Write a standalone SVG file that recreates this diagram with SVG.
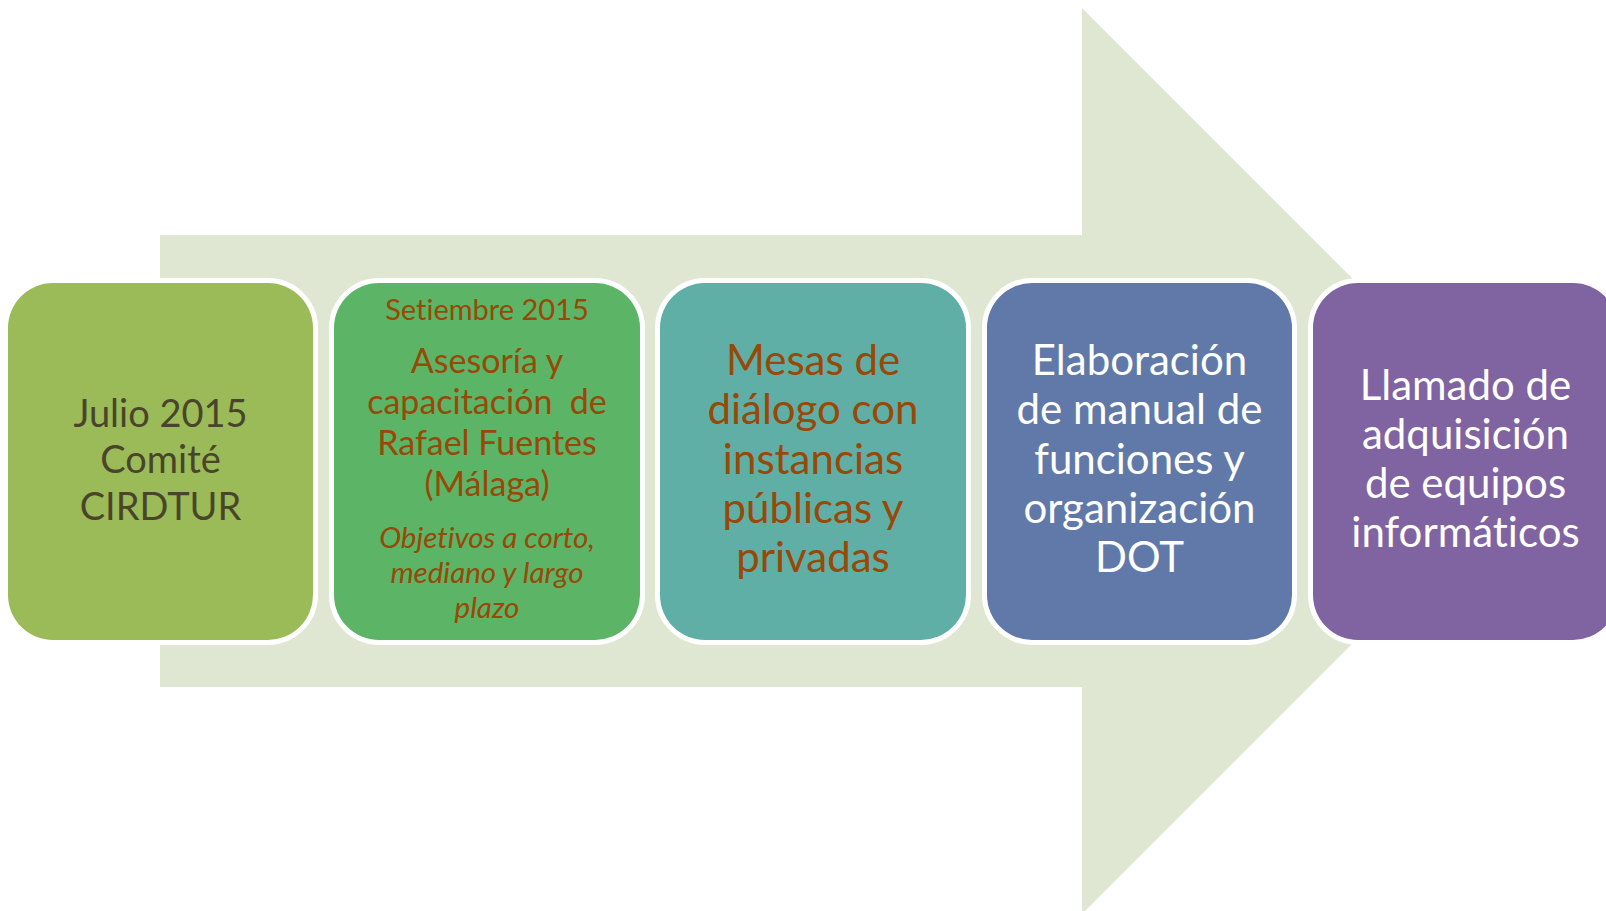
<svg xmlns="http://www.w3.org/2000/svg" width="1606" height="911" viewBox="0 0 1606 911">
<style>
.box{stroke:#FFFFFF;stroke-width:10;paint-order:stroke}
text{font-family:Lato,"Open Sans","Liberation Sans",sans-serif;text-anchor:middle;font-variant-ligatures:none}
.t1{font-size:38px;fill:#4A452A}
.t2a{font-size:29px;fill:#984807}
.t2b{font-size:34px;fill:#984807}
.t2c{font-size:29.5px;fill:#984807;font-style:italic}
.t3{font-size:42px;fill:#984807}
.tw{font-size:42px;fill:#FFFFFF}
</style>
<rect width="1606" height="911" fill="#FFFFFF"/>
<g id="background-arrow">
<polygon points="160,235 1082,235 1082,8 1535,461 1082,914 1082,687 160,687" fill="#DFE7D2"/>
</g>
<g id="connectors"></g>
<g id="node1">
<rect class="box" x="8" y="283" width="305" height="357" rx="45" fill="#9BBB59"/>
<text class="t1" x="160.5" y="427">Julio 2015</text>
<text class="t1" x="160.5" y="473">Comité</text>
<text class="t1" x="160.5" y="520">CIRDTUR</text>
</g>
<g id="node2">
<rect class="box" x="334" y="283" width="306" height="357" rx="45" fill="#5CB466"/>
<text class="t2a" x="487" y="320">Setiembre 2015</text>
<text class="t2b" x="487" y="373">Asesoría y</text>
<text class="t2b" x="487" y="414" xml:space="preserve">capacitación  de</text>
<text class="t2b" x="487" y="455">Rafael Fuentes</text>
<text class="t2b" x="487" y="496">(Málaga)</text>
<text class="t2c" x="487" y="548">Objetivos a corto,</text>
<text class="t2c" x="487" y="583">mediano y largo</text>
<text class="t2c" x="487" y="618">plazo</text>
</g>
<g id="node3">
<rect class="box" x="660" y="283" width="306" height="357" rx="45" fill="#5FAFA6"/>
<text class="t3" x="813" y="375">Mesas de</text>
<text class="t3" x="813" y="424">diálogo con</text>
<text class="t3" x="813" y="474">instancias</text>
<text class="t3" x="813" y="523">públicas y</text>
<text class="t3" x="813" y="572">privadas</text>
</g>
<g id="node4">
<rect class="box" x="987" y="283" width="305" height="357" rx="45" fill="#6079A9"/>
<text class="tw" x="1139.5" y="375">Elaboración</text>
<text class="tw" x="1139.5" y="424">de manual de</text>
<text class="tw" x="1139.5" y="474">funciones y</text>
<text class="tw" x="1139.5" y="523">organización</text>
<text class="tw" x="1139.5" y="572">DOT</text>
</g>
<g id="node5">
<rect class="box" x="1313" y="283" width="305" height="357" rx="45" fill="#8064A2"/>
<text class="tw" x="1465.5" y="400">Llamado de</text>
<text class="tw" x="1465.5" y="449">adquisición</text>
<text class="tw" x="1465.5" y="498">de equipos</text>
<text class="tw" x="1465.5" y="547">informáticos</text>
</g>
</svg>
